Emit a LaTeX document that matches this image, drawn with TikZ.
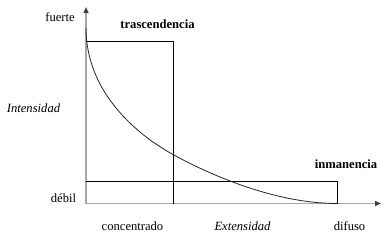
\documentclass[tikz,border=0pt]{standalone}
\usepackage{fontspec}
\setmainfont{Liberation Serif}
\usetikzlibrary{arrows.meta,positioning}

\begin{document}
\begin{tikzpicture}[
    x=1pt, y=-1pt,
    label/.style={font=\fontsize{12.6}{14}\selectfont, inner sep=0pt},
    title/.style={label, font=\fontsize{12.6}{14}\selectfont\bfseries},
    axislabel/.style={label, font=\fontsize{12.6}{14}\selectfont\itshape},
    axis/.style={black!35, line width=1.4pt, -{Triangle[color=black!75, length=6pt, width=5pt]}},
    box/.style={black, line width=0.8pt},
    curve/.style={black!85, line width=0.8pt}
]
\useasboundingbox (0,0) rectangle (387,241);

% Axes
\coordinate (o) at (86,203.5);
\coordinate (ytop) at (86,7);
\coordinate (xend) at (381,203.5);
\draw[axis] (o) -- (ytop);
\draw[axis] (o) -- (xend);

% Boxes
\coordinate (tr) at (173,41);
\coordinate (ir) at (337,181.5);
\draw[box] (o |- tr) -- (tr) -- (tr |- o);
\draw[box] (o |- ir) -- (ir) -- (ir |- o);

% Curve
\coordinate (cstart) at (86,28);
\coordinate (cmid) at (173,154.5);
\coordinate (cend) at (337,203.5);
\draw[curve] (cstart) .. controls (86,93) and (138,135.25) .. (cmid)
    .. controls (213,176.5) and (277,203.5) .. (cend);

% Labels
\node[label] (fuerte) at (60,17.5) {fuerte};
\node[label] (debil) at (63.5,198) {débil};
\node[axislabel] (int) at (33.5,108) {Intensidad};
\node[label] (conc) at (132.5,226.5) {concentrado};
\node[axislabel] (ext) at (242.5,226.5) {Extensidad};
\node[label] (dif) at (349.5,226.5) {difuso};
\node[title] (tras) at (157.5,24.5) {trascendencia};
\node[title] (inma) at (346,164) {inmanencia};

\end{tikzpicture}
\end{document}
